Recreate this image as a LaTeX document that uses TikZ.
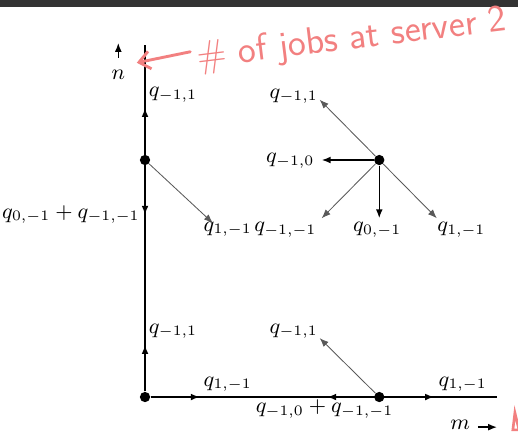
\documentclass[tikz,border=0pt]{standalone}
\usepackage{fontspec}
\usetikzlibrary{arrows.meta}
\definecolor{pen}{RGB}{242,128,128}
\definecolor{bar}{RGB}{51,51,51}
\begin{document}
\begin{tikzpicture}[>={Latex[length=1.3mm,width=1mm]},
    every node/.style={font=\fontsize{9}{11}\selectfont},
    dot/.style={circle,fill,inner sep=0pt,minimum size=1.5mm},
    axis/.style={line width=0.9pt},
    move/.style={line width=0.6pt},
    diag/.style={line width=0.35pt,black!65},
    lbl/.style={inner sep=0pt}]
            \useasboundingbox (-2.117,-0.555) rectangle (5.445,5.796);
            % screenshot bar
            \fill[bar] (-2.117,5.69) rectangle (5.445,5.796);

            % Lattice states
            \node[dot] (o) at (0,0) {};
            \node[dot] (v) at (0,3.46) {};
            \node[dot] (c) at (3.42,3.46) {};
            \node[dot] (h) at (3.42,0) {};
            \coordinate (ytop) at (0,5.14);
            \coordinate (xend) at (5.14,0);

            % Axes
            \draw[axis] (o) -- (ytop);
            \draw[axis] (o) -- (xend);
            \node[lbl] (n) at (-0.39,4.63) [anchor=base] {$n$};
            \coordinate (n-a) at (-0.39,4.95);
            \coordinate (n-b) at (-0.39,5.17);
            \draw[->,move] (n-a) -- (n-b);
            \node[lbl] (m) at (4.6,-0.48) [anchor=base] {$m$};
            \coordinate (m-a) at (4.86,-0.44);
            \coordinate (m-b) at (5.14,-0.44);
            \draw[->,move] (m-a) -- (m-b);

            % Boundary state on the n axis
            \coordinate (v-up) at (0,4.22);
            \coordinate (v-dn) at (0,2.66);
            \coordinate (v-dr) at (0.99,2.54);
            \draw[->,axis] (v) -- (v-up);
            \draw[->,axis] (v) -- (v-dn);
            \draw[->,diag] (v) -- (v-dr);
            \node[lbl,anchor=base west] (lv-up) at (0.05,4.38) {$q_{-1,1}$};
            \node[lbl,anchor=base east] (lv-dn) at (-0.07,2.61) {$q_{0,-1}+q_{-1,-1}$};
            \node[lbl,anchor=base west] (lv-dr) at (0.85,2.42) {$q_{1,-1}$};

            % Interior state
            \coordinate (c-ul) at (2.55,4.34);
            \coordinate (c-l) at (2.58,3.46);
            \coordinate (c-dl) at (2.58,2.61);
            \coordinate (c-d) at (3.42,2.61);
            \coordinate (c-dr) at (4.26,2.61);
            \draw[->,diag] (c) -- (c-ul);
            \draw[->,move] (c) -- (c-l);
            \draw[->,diag] (c) -- (c-dl);
            \draw[->,move] (c) -- (c-d);
            \draw[->,diag] (c) -- (c-dr);
            \node[lbl,anchor=base east] (lc-ul) at (2.53,4.36) {$q_{-1,1}$};
            \node[lbl,anchor=base east] (lc-l) at (2.48,3.42) {$q_{-1,0}$};
            \node[lbl,anchor=base east] (lc-dl) at (2.51,2.41) {$q_{-1,-1}$};
            \node[lbl,anchor=base] (lc-d) at (3.39,2.41) {$q_{0,-1}$};
            \node[lbl,anchor=base west] (lc-dr) at (4.26,2.41) {$q_{1,-1}$};

            % Origin
            \coordinate (o-up) at (0,0.76);
            \coordinate (o-r) at (0.80,0);
            \draw[->,axis] (o) -- (o-up);
            \draw[->,axis] (o) -- (o-r);
            \node[lbl,anchor=base west] (lo-up) at (0.05,0.93) {$q_{-1,1}$};
            \node[lbl,anchor=base west] (lo-r) at (0.85,0.16) {$q_{1,-1}$};

            % Boundary state on the m axis
            \coordinate (h-l) at (2.66,0);
            \coordinate (h-r) at (4.22,0);
            \coordinate (h-ul) at (2.55,0.86);
            \draw[->,axis] (h) -- (h-l);
            \draw[->,axis] (h) -- (h-r);
            \draw[->,diag] (h) -- (h-ul);
            \node[lbl,anchor=base west] (lh-l) at (1.61,-0.23) {$q_{-1,0}+q_{-1,-1}$};
            \node[lbl,anchor=base west] (lh-r) at (4.28,0.16) {$q_{1,-1}$};
            \node[lbl,anchor=base east] (lh-ul) at (2.53,0.93) {$q_{-1,1}$};

            % Handwritten note
            \coordinate (pen-a) at (0.66,5.04);
            \coordinate (pen-b) at (-0.12,4.88);
            \draw[pen,line width=1.2pt,line cap=round,->,>={Straight Barb[length=1.6mm,width=2.6mm]}] (pen-a) -- (pen-b);
            \node[lbl,pen,anchor=base west,rotate=7] (note) at (0.77,4.80)
                {\sffamily\fontsize{15.8}{17}\selectfont \# of jobs at server 2};
            \draw[pen,line width=1.1pt,line cap=round] (5.37,-0.48) -- (5.40,-0.23) -- (5.46,-0.48) -- cycle;
          \end{tikzpicture}
\end{document}
